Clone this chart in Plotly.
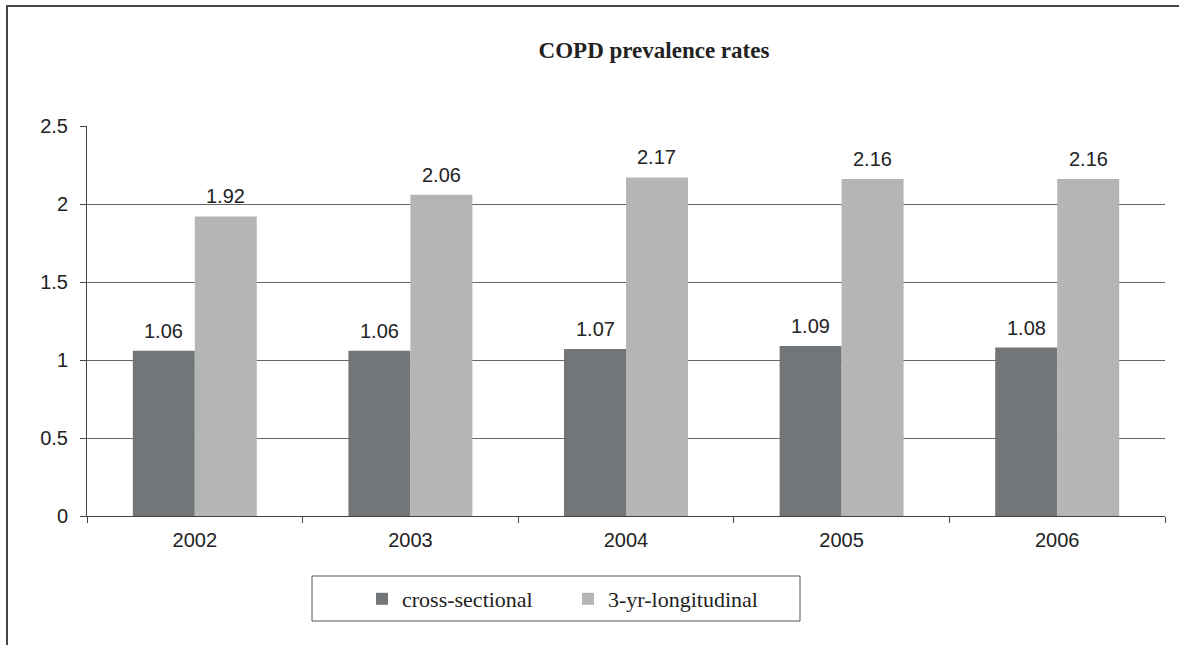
import plotly.graph_objects as go

years = ["2002", "2003", "2004", "2005", "2006"]
cross_sectional = [1.06, 1.06, 1.07, 1.09, 1.08]
longitudinal = [1.92, 2.06, 2.17, 2.16, 2.16]
series_names = ["cross-sectional", "3-yr-longitudinal"]
series_colors = ["#727679", "#b4b6b5"]
y_ticks = [0, 0.5, 1, 1.5, 2, 2.5]
y_tick_text = ["0", "0.5", "1", "1.5", "2", "2.5"]

W, H = 1179, 645
L, R, T, B = 87, 14, 126, 129
pw, ph = W - L - R, H - T - B
BARGAP = 0.425
SANS = "Liberation Sans, Arial"
SERIF = "Liberation Serif, Times New Roman"

fig = go.Figure()
for name, vals, col in zip(series_names, [cross_sectional, longitudinal], series_colors):
    fig.add_trace(go.Bar(x=years, y=vals, name=name, marker=dict(color=col, line=dict(width=0))))

# value labels (positioned by category index on the axis)
bar_px = pw / len(years) * (1 - BARGAP) / 2
for i, vals in enumerate([cross_sectional, longitudinal]):
    shift = (-0.5 if i == 0 else 0.5) * bar_px
    for k, v in enumerate(vals):
        fig.add_annotation(x=k, y=v, xref="x", yref="y", text=f"{v:.2f}", showarrow=False,
                           xshift=shift, yanchor="bottom", yshift=7,
                           font=dict(family=SANS, size=20, color="#222"))

def px_x(x):
    return (x - L) / pw

def px_y(y):
    return 1 - (y - T) / ph

# outer frame lines (left and top)
fig.add_shape(type="line", xref="paper", yref="paper", x0=px_x(7), x1=px_x(7),
              y0=px_y(5), y1=px_y(645), line=dict(color="#444", width=2))
fig.add_shape(type="line", xref="paper", yref="paper", x0=px_x(6), x1=px_x(1179),
              y0=px_y(6), y1=px_y(6), line=dict(color="#444", width=2))
# legend box
fig.add_shape(type="rect", xref="paper", yref="paper", x0=px_x(312), x1=px_x(800),
              y0=px_y(576), y1=px_y(621), line=dict(color="#555", width=1), fillcolor="white",
              layer="below")

fig.update_layout(
    width=W, height=H,
    margin=dict(l=L, r=R, t=T, b=B, autoexpand=False),
    paper_bgcolor="white", plot_bgcolor="rgba(0,0,0,0)",
    barmode="group", bargap=BARGAP, bargroupgap=0,
    title=dict(text="<b>COPD prevalence rates</b>", x=654 / W, xanchor="center",
               y=1 - 50 / H, yanchor="middle",
               font=dict(family=SERIF, size=23, color="#222")),
    showlegend=True,
    legend=dict(orientation="h", x=px_x(362), xanchor="left", y=px_y(578), yanchor="top",
                borderwidth=0, bgcolor="rgba(0,0,0,0)",
                font=dict(family=SERIF, size=22, color="#222"),
                entrywidth=161, entrywidthmode="pixels",
                traceorder="normal"),
    xaxis=dict(type="category", range=[-0.5, 4.5], showline=True, linecolor="#444", linewidth=1,
               ticks="outside", tickson="boundaries", ticklen=6, tickcolor="#444",
               ticklabelstandoff=6,
               showgrid=False, tickfont=dict(family=SANS, size=20, color="#222")),
    yaxis=dict(range=[0, 2.5], tickvals=y_ticks, ticktext=y_tick_text, showline=True,
               linecolor="#444", linewidth=1, ticks="outside", ticklen=6, tickcolor="#444",
               showgrid=True, gridcolor="#666", gridwidth=1, zeroline=False,
               ticklabelstandoff=8,
               tickfont=dict(family=SANS, size=20, color="#222")),
)

fig.write_html("out.html", config={"displayModeBar": False},
               post_script="document.body.style.margin='0';")
